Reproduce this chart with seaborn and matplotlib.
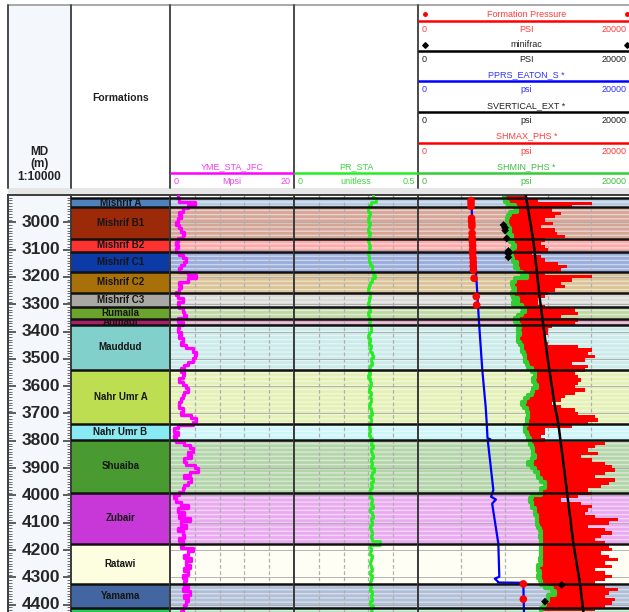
import numpy as np
import matplotlib
matplotlib.use("Agg")
import matplotlib.pyplot as plt
from matplotlib import colors as mcolors
from matplotlib.patches import Rectangle
import seaborn as sns

sns.set_theme(style="white")
plt.rcParams["font.family"] = ["Liberation Sans", "DejaVu Sans"]
plt.rcParams["hatch.linewidth"] = 1.0

# ---------------------------------------------------------------- data
form_names = ["Mishrif A", "Mishrif B1", "Mishrif B2", "Mishrif C1", "Mishrif C2",
              "Mishrif C3", "Rumaila", "Ahmadi", "Mauddud", "Nahr Umr A",
              "Nahr Umr B", "Shuaiba", "Zubair", "Ratawi", "Yamama", "Sulaiy"]
form_tops = [2912, 2945, 3060, 3109, 3182, 3258, 3311, 3355, 3375, 3541,
             3739, 3796, 3990, 4178, 4326, 4413]
form_bases = [2945, 3060, 3109, 3182, 3258, 3311, 3355, 3375, 3541, 3739,
              3796, 3990, 4178, 4326, 4413, 4500]
form_colors = ["#4f81bd", "#9c2a08", "#ff3232", "#0c3aa6", "#a87008",
               "#a8a8a4", "#6aa42c", "#a8206a", "#82d0cc", "#bede52",
               "#88eaf2", "#4a9a32", "#c838d8", "#fdfde0", "#4466a0", "#22cc55"]

md_major = [3000, 3100, 3200, 3300, 3400, 3500, 3600, 3700, 3800, 3900,
            4000, 4100, 4200, 4300, 4400]

# log curves, sampled every 12.2 m from 2900 m
LOG_TOP_M = 2900.0
LOG_STEP_M = 12.2

yme_sta_jfc = [  # Mpsi
    1.25, 1.52, 3.96, 2.88, 2.06, 1.52, 1.79, 1.25, 0.97, 1.52,
    1.79, 2.33, 2.06, 1.25, 0.97, 1.25, 0.97, 1.52, 2.06, 2.61,
    2.33, 1.79, 1.52, 2.88, 4.23, 2.88, 1.52, 1.79, 1.52, 0.97,
    1.25, 2.06, 1.25, 1.52, 2.06, 2.33, 2.61, 1.25, 2.06, 1.52,
    1.25, 1.79, 1.52, 2.06, 1.79, 2.61, 3.69, 4.23, 3.96, 3.69,
    2.88, 2.33, 1.79, 2.33, 2.06, 1.52, 2.06, 2.61, 2.88, 2.33,
    2.06, 1.79, 1.52,
    1.52, 2.06, 1.79, 3.42, 4.23, 3.69, 1.25, 0.70, 1.25, 0.70,
    0.97, 2.33, 3.15, 3.69, 2.88, 3.42, 2.33, 2.61, 3.96, 4.51,
    3.15, 2.33, 3.42, 2.88, 2.33, 2.06, 1.52, 0.70, 0.97, 1.79,
    2.88, 1.25, 2.33, 1.52, 3.15, 1.79, 2.61, 1.25, 2.06, 2.33,
    1.52, 2.06, 1.79, 3.69, 2.88, 2.33, 3.42, 2.61, 3.15, 2.33,
    2.88, 2.06, 2.61, 2.33, 2.88, 2.06, 3.15, 2.33, 2.88, 2.61,
    2.33, 2.06, 1.79]

pr_sta = [  # unitless
    0.320, 0.330, 0.310, 0.303, 0.300, 0.305, 0.302, 0.300, 0.306, 0.303,
    0.300, 0.305, 0.302, 0.300, 0.303, 0.306, 0.302, 0.300, 0.304, 0.302,
    0.306, 0.313, 0.313, 0.320, 0.325, 0.313, 0.305, 0.302, 0.300, 0.305,
    0.306, 0.303, 0.300, 0.302, 0.305, 0.300, 0.303, 0.306, 0.302, 0.310,
    0.309, 0.303, 0.300, 0.305, 0.302, 0.310, 0.306, 0.315, 0.320, 0.310,
    0.315, 0.306, 0.302, 0.305, 0.300, 0.305, 0.310, 0.306, 0.303, 0.309,
    0.305, 0.310, 0.306, 0.303, 0.309, 0.313, 0.306, 0.310, 0.305, 0.303,
    0.306, 0.302, 0.305, 0.313, 0.310, 0.318, 0.309, 0.313, 0.320, 0.310,
    0.315, 0.309, 0.322, 0.313, 0.310, 0.318, 0.309, 0.313, 0.306, 0.310,
    0.305, 0.313, 0.309, 0.318, 0.306, 0.313, 0.320, 0.309, 0.313, 0.306,
    0.310, 0.315, 0.309, 0.313, 0.345, 0.306, 0.310, 0.305, 0.313, 0.309,
    0.306, 0.310, 0.313, 0.306, 0.315, 0.309, 0.305, 0.310, 0.306, 0.315,
    0.309, 0.313, 0.306, 0.318, 0.310, 0.313]

shmin_phs = [  # psi
    7900, 8050, 8350, 8950, 9100, 8500, 8350, 8200, 8200, 8350,
    8500, 8350, 8650, 8500, 8800, 8950, 8650, 8500, 8650, 8800,
    9100, 8950, 9250, 9600, 10050, 8950, 8650, 8800, 8950, 8650,
    8800, 9250,
    8800, 9600, 9900, 9600, 9250, 8950, 9250, 9400, 9250, 9400,
    9250, 9250, 9400, 9600, 9600, 9750, 9900, 9900, 10050, 10200,
    10500, 10800, 10800, 10650, 10800, 10950, 10650, 10500, 10200, 9900,
    9600,
    9750, 10050, 10200, 10200, 10050, 10050, 9900, 9900, 10050, 10200,
    10350, 10350, 10500, 10650, 10650, 10800, 10500, 10200, 10500, 10800,
    11100, 11100, 11400, 11750, 11750, 11400, 11400, 10500, 10350, 10500,
    10500,
    10800, 10800, 10950, 10950, 10950, 11100, 11250, 11400, 11250, 11400,
    11400, 11400, 11400, 11400, 11400, 11250, 11400, 11100, 11100, 11250,
    11100, 11250, 11400, 11750, 12350, 12650, 12050, 12050, 11750, 11600,
    11400, 11400]

shmax_phs = [  # psi
    9900, 11100, 16050, 14200, 12350, 13250, 12650, 11750, 12500, 11400,
    12650, 12800, 13600, 11750, 11400, 11750, 12050, 10500, 11400, 11750,
    12950, 13750, 13250, 11750, 16050, 14200, 13250, 13600, 12650, 12050,
    11750, 11100,
    11100, 11750, 14500, 14800, 13250, 14800, 14500, 12350, 12050, 12050,
    11750, 11600, 12050, 14800, 16050, 15750, 16350, 15450, 14200, 15750,
    15450, 14500, 14800, 15100, 14800, 14500, 15450, 14500, 13600, 13250,
    12350,
    13250, 14500, 14800, 16350, 16650, 15750, 14200, 11750, 11750, 11400,
    11750, 17250, 16350, 15750, 16650, 15100, 16050, 17250, 17900, 18200,
    17250, 16350, 18200, 17600, 16950, 15750, 16050, 14800, 13250, 15100,
    16050,
    15750, 15450, 16350, 18500, 17600, 15750, 17250, 17900, 16950, 16350,
    17250, 17600, 17900, 16950, 17600, 18500, 17250, 17900, 16350, 17250,
    17900, 17250, 16350, 17250, 18500, 17600, 17250, 18200, 17900, 17250,
    16350, 16050]

log_depth = LOG_TOP_M + LOG_STEP_M * np.arange(len(yme_sta_jfc))

sv_depth = [2900, 3065, 3285, 3516, 3675, 3736, 3980, 4176, 4322, 4430]
sv_psi = [9950, 10650, 11270, 12040, 12650, 12960, 13740, 14350, 14960, 15290]

pp_depth = [2918, 2955, 3223, 3369, 3541, 3675, 3736, 3790, 3795, 3800, 3980,
            3995, 4005, 4015, 4030, 4176, 4298, 4305, 4316, 4319, 4320, 4430]
pp_psi = [4900, 4960, 5420, 5640, 5940, 6250, 6350, 6420, 6700, 6450, 6960,
          6840, 6750, 7200, 6850, 7420, 7510, 7100, 7390, 7390, 9730, 9790]

fp_depth = [2920, 2930, 2942, 2985, 2995, 3005, 3015, 3040, 3055, 3070, 3085,
            3100, 3115, 3130, 3145, 3160, 3175, 3205, 3272, 3303, 4324, 4380]
fp_psi = [4900, 4900, 4900, 4950, 4950, 4980, 4980, 5000, 5000, 5030, 5050,
          5050, 5050, 5080, 5100, 5100, 5120, 5180, 5380, 5420, 9730, 9730]

mf_depth = [3010, 3020, 3030, 3059, 3105, 3115, 3128, 4328, 4389]
mf_psi = [7900, 8050, 8050, 8200, 8350, 8350, 8350, 13280, 11730]

# ---------------------------------------------------------------- layout
W, H, DPI = 629, 612, 100
COL_X = [8, 71, 170, 294, 418, 634.5]
HEAD_TOP, HEAD_BOTTOM, PLOT_TOP = 5, 188, 195
DEPTH_TOP, DEPTH_BOTTOM = 2900, 4427

RED, BLUE, BLACK = "#ff0000", "#0000ff", "#000000"
MAGENTA, PR_GREEN, SH_GREEN = "#ff00ff", "#22ee22", "#33cc33"
SEP = "#3c3c3c"

fig = plt.figure(figsize=(W / DPI, H / DPI), dpi=DPI)
fig.patch.set_facecolor("white")


def rect(x0, x1):
    return [x0 / W, 0, (x1 - x0) / W, (H - PLOT_TOP) / H]


def pale(c, a=0.42):
    r, g, b = mcolors.to_rgb(c)
    return (1 - a + a * r, 1 - a + a * g, 1 - a + a * b)


def style_axes(ax, xlim):
    ax.set_xlim(*xlim)
    ax.set_ylim(DEPTH_BOTTOM, DEPTH_TOP)
    ax.set_facecolor("white")
    for s in ("top", "left", "right"):
        ax.spines[s].set_visible(True)
        ax.spines[s].set_color(SEP)
        ax.spines[s].set_linewidth(1.4)
    ax.spines["bottom"].set_visible(False)
    ax.set_yticks([])
    ax.set(xlabel="", ylabel="")


# header canvas in pixel units
hdr = fig.add_axes([0, 0, 1, 1], zorder=-5)
hdr.set_xlim(0, W)
hdr.set_ylim(H, 0)
hdr.axis("off")
hdr.add_patch(Rectangle((COL_X[0], HEAD_TOP), COL_X[1] - COL_X[0],
                        HEAD_BOTTOM - HEAD_TOP, facecolor="#f4f7fc", lw=0))
hdr.add_patch(Rectangle((COL_X[0], HEAD_BOTTOM), W - COL_X[0],
                        PLOT_TOP - HEAD_BOTTOM, facecolor="#e6e6e6", lw=0))
hdr.plot([COL_X[0], W], [HEAD_TOP, HEAD_TOP], color="#9a9a9a", lw=1.2)
for x in COL_X[:5]:
    hdr.plot([x, x], [HEAD_TOP, HEAD_BOTTOM], color="#4a4a4a", lw=1.4)

hfs = 6.5
hdr.text(39.5, 152, "MD", ha="center", va="center", fontsize=8.5,
         fontweight="bold", color="#222222")
hdr.text(39.5, 163.5, "(m)", ha="center", va="center", fontsize=8.5,
         fontweight="bold", color="#222222")
hdr.text(39.5, 177.5, "1:10000", ha="center", va="center", fontsize=8.5,
         fontweight="bold", color="#222222")
hdr.text(120.5, 98, "Formations", ha="center", va="center", fontsize=7.5,
         fontweight="bold", color="#222222")


def header_entry(x0, x1, line_y, name, unit, lo, hi, color, tcolor, marker=None):
    xc = (x0 + x1) / 2
    hdr.plot([x0, x1], [line_y, line_y], color=color, lw=1.8,
             solid_capstyle="butt")
    hdr.text(xc, line_y - 6.5, name, ha="center", va="center",
             fontsize=hfs, color=tcolor)
    hdr.text(x0 + 3.5, line_y + 8.5, lo, ha="left", va="center",
             fontsize=hfs, color=tcolor)
    hdr.text(xc, line_y + 8.5, unit, ha="center", va="center",
             fontsize=hfs, color=tcolor)
    hdr.text(min(x1 - 3, W - 2), line_y + 8.5, hi, ha="right", va="center",
             fontsize=hfs, color=tcolor)
    if marker is not None:
        hdr.plot([x0 + 7, W - 2], [line_y - 6.5] * 2, ls="none",
                 marker=marker[0], ms=marker[1], color=color)


header_entry(COL_X[2], COL_X[3], 173.3, "YME_STA_JFC", "Mpsi", "0", "20",
             MAGENTA, "#f040f0")
header_entry(COL_X[3], COL_X[4], 173.3, "PR_STA", "unitless", "0", "0.5",
             PR_GREEN, "#3fd23f")
t3 = [("Formation Pressure", "PSI", RED, "#ff3b3b", ("o", 2.5)),
      ("minifrac", "PSI", BLACK, "#222222", ("D", 2.8)),
      ("PPRS_EATON_S *", "psi", BLUE, "#3030ff", None),
      ("SVERTICAL_EXT *", "psi", BLACK, "#222222", None),
      ("SHMAX_PHS *", "psi", RED, "#ff3b3b", None),
      ("SHMIN_PHS *", "psi", SH_GREEN, "#3fbf3f", None)]
for ly, (nm, un, c, tc, mk) in zip([20.7, 51, 81.3, 112, 142.7, 173.3], t3):
    header_entry(COL_X[4], COL_X[5], ly, nm, un, "0", "20000", c, tc, mk)

# ---------------------------------------------------------------- MD column
ax_md = fig.add_axes(rect(COL_X[0], COL_X[1]))
style_axes(ax_md, (0, 1))
ax_md.set_facecolor("#f4f7fc")
ax_md.set_xticks([])
ax_md.set_yticks(md_major)
ax_md.set_yticks(np.arange(2900, 4430, 10), minor=True)
ax_md.tick_params(axis="y", which="major", left=True, right=True,
                  direction="in", length=6, width=1.1, color="#333333",
                  labelleft=False, labelright=False)
ax_md.tick_params(axis="y", which="minor", left=True, right=True,
                  direction="in", length=3, width=0.6, color="#555555")
for d in md_major:
    ax_md.text(0.83, d, f"{d}", ha="right", va="center", fontsize=12.5,
               fontweight="bold", color="#262626")

# ---------------------------------------------------------------- formations
ax_f = fig.add_axes(rect(COL_X[1], COL_X[2]))
style_axes(ax_f, (0, 1))
ax_f.set_xticks([])
for nm, top, base, c in zip(form_names, form_tops, form_bases, form_colors):
    span = ax_f.axhspan(top, base, color=c, lw=0, zorder=1)
    mid = (top + base) / 2
    if mid > DEPTH_BOTTOM:
        continue  # label centre lies below the displayed interval
    txt = ax_f.text(0.5, mid, nm, ha="center", va="center",
                    fontsize=7, fontweight="bold", color="#161616",
                    zorder=3, clip_on=True)
    if base - top < 25:
        txt.set_clip_path(span)

# ---------------------------------------------------------------- tracks
tracks = [
    (fig.add_axes(rect(COL_X[2], COL_X[3])), (0, 20), np.linspace(0, 20, 6)),
    (fig.add_axes(rect(COL_X[3], COL_X[4])), (0, 0.5), np.linspace(0, 0.5, 6)),
    (fig.add_axes(rect(COL_X[4], COL_X[5])), (0, 20000), np.linspace(0, 20000, 6)),
]
for ax, xlim, grid in tracks:
    for top, base, c in zip(form_tops, form_bases, form_colors):
        ax.axhspan(top, base, facecolor=pale(c), edgecolor=(1, 1, 1, 0.5),
                   lw=0, hatch="----", zorder=0.5)
    for d in md_major:
        ax.axhline(d, color="#a8a8a8", lw=0.6, zorder=1)
    for g in grid[1:-1]:
        ax.axvline(g, color="#b0b0b0", lw=0.9, ls=(0, (3, 2)), zorder=1.2)

ax1, ax2, ax3 = (t[0] for t in tracks)

sns.lineplot(x=yme_sta_jfc, y=log_depth, orient="y", sort=True, estimator=None,
             drawstyle="steps-pre", color=MAGENTA, linewidth=2.4, ax=ax1,
             zorder=3)
sns.lineplot(x=pr_sta, y=log_depth, orient="y", sort=True, estimator=None,
             drawstyle="steps-pre", color=PR_GREEN, linewidth=2.0, ax=ax2,
             zorder=3)

ax3.fill_betweenx(log_depth, shmin_phs, shmax_phs, step="post", color=RED,
                  lw=0, zorder=2)
sns.lineplot(x=shmin_phs, y=log_depth, orient="y", sort=True, estimator=None,
             drawstyle="steps-pre", color=SH_GREEN, linewidth=3.0, ax=ax3,
             zorder=2.5)
sns.lineplot(x=sv_psi, y=sv_depth, orient="y", sort=False, estimator=None,
             color=BLACK, linewidth=1.8, ax=ax3, zorder=3)
sns.lineplot(x=pp_psi, y=pp_depth, orient="y", sort=False, estimator=None,
             color=BLUE, linewidth=1.6, ax=ax3, zorder=3.2)
sns.scatterplot(x=fp_psi, y=fp_depth, color=RED, s=30, edgecolor="none",
                ax=ax3, zorder=5)
sns.scatterplot(x=mf_psi, y=mf_depth, color=BLACK, marker="D", s=16,
                edgecolor="none", ax=ax3, zorder=5)

for ax, xlim, grid in tracks:
    style_axes(ax, xlim)
    ax.set_xticks(grid[1:-1])
    ax.tick_params(axis="x", top=True, bottom=False, direction="in",
                   length=3, width=0.8, color="#555555",
                   labeltop=False, labelbottom=False)

# formation boundaries across formation column and tracks
bounds = sorted(set(form_tops) | set(form_bases))
for ax in (ax_f, ax1, ax2, ax3):
    for b in bounds:
        ax.axhline(b, color="#111111", lw=1.8, zorder=4)
    ax.set_ylim(DEPTH_BOTTOM, DEPTH_TOP)

fig.savefig("out.png", dpi=DPI)
